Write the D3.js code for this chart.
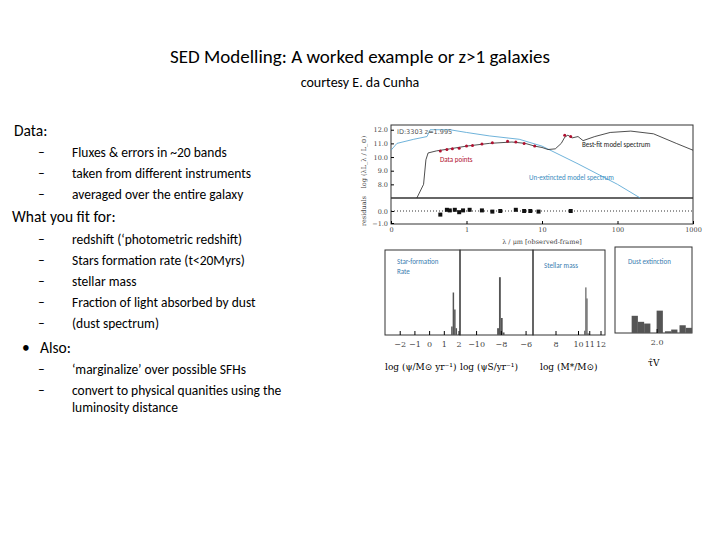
<!DOCTYPE html><html><head><meta charset="utf-8"><script src="https://cdn.jsdelivr.net/npm/d3@7"></script>
<style>body{margin:0;background:#fff}</style></head><body><svg id="s" width="720" height="540"></svg><script>
const bestFit=[[0.22,7.0],[0.27,8.0],[0.29,9.8],[0.31,10.3],[0.4,10.45],[0.6,10.6],[1,10.8],[2,11.0],[4,11.1],[6,11.0],[8,10.8],[10,10.7],[12,10.55],[15,10.6],[18,11.0],[20,11.45],[22,11.6],[25,11.4],[30,11.5],[35,11.2],[50,11.5],[80,11.8],[150,11.9],[300,11.7],[600,11.0],[1000,10.5]];
const unext=[[0.1,10.5],[0.12,11.0],[0.2,11.3],[0.3,11.5],[0.33,12.0],[0.6,12.0],[1,11.8],[2,11.55],[5,11.3],[10,10.8],[30,9.5],[100,8.0],[200,7.0]];
const dataPts=[[0.45,10.45],[0.55,10.55],[0.65,10.6],[0.8,10.65],[1.0,10.8],[1.2,10.85],[1.6,10.95],[2.2,11.05],[3.5,11.15],[4.5,11.1],[5.8,11.0],[8,10.8],[20,11.6],[24,11.5]];
const resid=[[0.45,-0.3],[0.55,0.1],[0.6,0.05],[0.7,0.1],[0.8,-0.1],[0.9,0.05],[1.1,0.1],[1.6,0.05],[2.2,-0.05],[2.8,0.0],[4.5,0.1],[5.8,0.0],[7,0.0],[9,-0.05],[24,0.0]];
const sfrBins=[[1.5,0.1],[1.6,0.5],[1.7,0.3],[1.8,0.08]];
const ssfrBins=[[-8.3,0.08],[-8.15,0.68],[-8.0,0.2],[-7.85,0.03]];
const massBins=[[10.55,0.05],[10.65,0.56],[10.75,0.43],[10.85,0.02]];
const dustBins=[[1.4,0.2],[1.55,0.13],[1.7,0.11],[2.0,0.26],[2.2,0.02],[2.35,0.04],[2.55,0.09],[2.7,0.06]];
const dataBullets=["Fluxes & errors in ~20 bands","taken from different instruments","averaged over the entire galaxy"];
const fitBullets=["redshift (‘photometric redshift)","Stars formation rate (t<20Myrs)","stellar mass","Fraction of light absorbed by dust","(dust spectrum)"];
const svg=d3.select("#s");const F="Carlito, 'Open Sans', Calibri, sans-serif";
const T=(x,y,t,o={})=>svg.append("text").attr("x",x).attr("y",y).text(t).attr("font-family",o.f||F).attr("font-size",o.s||13.5).attr("fill",o.c||"#000").attr("text-anchor",o.a||"start");
T(360,63,"SED Modelling: A worked example or z>1 galaxies",{s:19,a:"middle"});
T(360,87,"courtesy E. da Cunha",{s:14,a:"middle"});
T(14,136,"Data:",{s:15.5});
dataBullets.forEach((t,i)=>{T(38,157+i*21,"–");T(72,157+i*21,t);});
T(12,222,"What you fit for:",{s:15.5});
fitBullets.forEach((t,i)=>{T(38,244+i*21,"–");T(72,244+i*21,t);});
T(22,353,"•",{s:15.5});T(40,353,"Also:",{s:15.5});
T(38,374,"–");T(72,374,"‘marginalize’ over possible SFHs");
T(38,395,"–");T(72,395,"convert to physical quanities using the");T(72,412,"luminosity distance");
const x=d3.scaleLog().domain([0.1,1000]).range([391,693]);
const y=d3.scaleLinear().domain([7,12.2]).range([198,127]);
const yr=d3.scaleLinear().domain([-1,1]).range([223,199]);
const g=svg.append("g");
g.append("rect").attr("x",391).attr("y",125).attr("width",302).attr("height",99).attr("fill","none").attr("stroke","#333");
g.append("line").attr("x1",391).attr("x2",693).attr("y1",198).attr("y2",198).attr("stroke","#333").attr("stroke-width",1.5);
g.append("g").attr("transform","translate(391,0)").call(d3.axisLeft(y).tickValues([8,9,10,11,12]).tickFormat(d3.format(".1f")).tickSize(-3)).call(a=>a.select(".domain").remove());
g.append("g").attr("transform","translate(391,0)").call(d3.axisLeft(yr).tickValues([-1,0]).tickFormat(d3.format(".1f")).tickSize(-3)).call(a=>a.select(".domain").remove());
g.append("g").attr("transform","translate(0,224)").call(d3.axisBottom(x).tickValues([0.1,1,10,100,1000]).tickFormat(d=>d<1?"0":d).tickSize(-3)).call(a=>a.select(".domain").remove());
g.selectAll("text").attr("font-family","DejaVu Serif").attr("font-size",6.5).attr("fill","#444");
g.append("line").attr("x1",391).attr("x2",693).attr("y1",yr(0)).attr("y2",yr(0)).attr("stroke","#333").attr("stroke-dasharray","1,2");
const ln=d3.line().x(d=>x(d[0])).y(d=>y(d[1]));
svg.append("path").attr("d",ln(unext)).attr("fill","none").attr("stroke","#4a9fd0").attr("stroke-width",0.8);
svg.append("path").attr("d",ln(bestFit)).attr("fill","none").attr("stroke","#222").attr("stroke-width",0.8);
svg.selectAll(".dp").data(dataPts).join("circle").attr("cx",d=>x(d[0])).attr("cy",d=>y(d[1])).attr("r",1.5).attr("fill","#b01030");
svg.selectAll(".rp").data(resid).join("rect").attr("x",d=>x(d[0])-2).attr("y",d=>yr(d[1])-2).attr("width",4).attr("height",4).attr("fill","#111");
T(397,134,"ID:3303 z=1.995",{s:6.5,c:"#555",f:"DejaVu Sans"});
T(582,147,"Best-fit model spectrum",{s:7,c:"#222"});
T(440,162,"Data points",{s:7,c:"#b01030"});
T(529,180,"Un-extincted model spectrum",{s:7,c:"#3a8cc0"});
T(542,244,"λ / μm  [observed-frame]",{s:6.5,c:"#444",a:"middle",f:"DejaVu Serif"});
svg.append("text").attr("transform","translate(366,162) rotate(-90)").attr("text-anchor","middle").attr("font-family","DejaVu Serif").attr("font-size",6.5).attr("fill","#444").text("log (λL_λ / L_⊙)");
svg.append("text").attr("transform","translate(366,211) rotate(-90)").attr("text-anchor","middle").attr("font-family","DejaVu Serif").attr("font-size",6.5).attr("fill","#444").text("residuals");
function hist(x0,x1,y0,y1,dom,bins,w,ticks,fmt){
 const hx=d3.scaleLinear().domain(dom).range([x0,x1]);const hy=d3.scaleLinear().domain([0,1]).range([y1,y0]);
 svg.append("rect").attr("x",x0).attr("y",y0).attr("width",x1-x0).attr("height",y1-y0).attr("fill","none").attr("stroke","#333");
 svg.append("g").selectAll("rect").data(bins).join("rect").attr("x",d=>hx(d[0])).attr("y",d=>hy(d[1])).attr("width",hx(dom[0]+w)-hx(dom[0])).attr("height",d=>y1-hy(d[1])).attr("fill","#555");
 const ax=svg.append("g").attr("transform",`translate(0,${y1})`).call(d3.axisBottom(hx).tickValues(ticks).tickFormat(fmt||(d=>d<0?"−"+(-d):d)).tickSize(-4));
 ax.select(".domain").remove();ax.selectAll("text").attr("font-family","DejaVu Serif").attr("font-size",8).attr("fill","#444").attr("dy","1.1em");
}
hist(385,460,250,335,[-3,2.1],sfrBins,0.1,[-2,-1,0,1,2]);
hist(460,533,250,335,[-11.3,-5.4],ssfrBins,0.15,[-10,-8,-6]);
hist(533,605,250,335,[6,12.4],massBins,0.1,[8,10,11,12]);
hist(615,692,247,333,[1.0,2.85],dustBins,0.15,[2.0],d3.format(".1f"));
T(397,264,"Star-formation",{s:7,c:"#3a7cb0"});T(397,274,"Rate",{s:7,c:"#3a7cb0"});
T(544,268,"Stellar mass",{s:7,c:"#3a7cb0"});T(628,264,"Dust extinction",{s:7,c:"#3a7cb0"});
const FS="DejaVu Serif";
T(385,370,"log (ψ/M⊙ yr⁻¹)",{s:9,f:FS});T(460,370,"log (ψS/yr⁻¹)",{s:9,f:FS});T(540,370,"log (M*/M⊙)",{s:9,f:FS});T(648,366,"τ̂V",{s:9,f:FS});
</script></body></html>
